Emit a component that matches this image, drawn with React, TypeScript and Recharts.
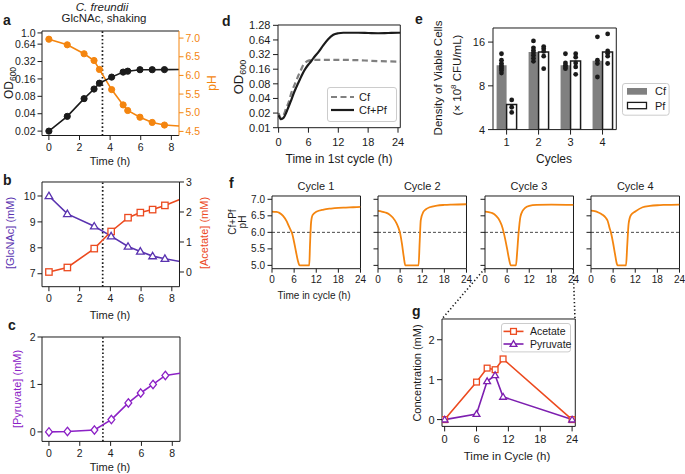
import React from "react";
import {
  LineChart,
  Line,
  XAxis,
  YAxis,
  ReferenceLine,
  ComposedChart,
  Bar,
  Scatter,
  Legend,
} from "recharts";

const FONT = '"Liberation Sans", Arial, Helvetica, sans-serif';
const INK = "#1b1b1b";
const ORANGE = "#f4850f";
const GLC = "#5a33b0";
const ACE = "#ec4a1f";
const PYR = "#8c22c6";
const PYR_G = "#7d1fb0";
const GREY = "#808080";

// ---- a: OD600 and pH, C. freundii on GlcNAc ----
const aTime = [0, 1.2, 2.3, 2.95, 3.3, 4.1, 4.85, 5.15, 5.95, 6.75, 7.55, 9];
const aOD = [0.02, 0.036, 0.073, 0.107, 0.135, 0.172, 0.21, 0.218, 0.231, 0.231, 0.232, 0.233];
const aPH = [6.97, 6.82, 6.58, 6.4, 6.16, 5.62, 5.21, 5.06, 4.88, 4.74, 4.67, 4.63];
const odTicks = [0.02, 0.04, 0.08, 0.16, 0.32, 0.64, 1];
const phTicks = [4.5, 5, 5.5, 6, 6.5, 7];
const hourTicks = [0, 2, 4, 6, 8];
const lagTime = 3.5;

// ---- b / c: GlcNAc, acetate, pyruvate ----
const bcTime = [0, 1.2, 2.95, 4.05, 5.15, 5.95, 6.75, 7.55, 9];
const bGlcNAc = [10, 9.31, 8.83, 8.45, 8.05, 7.86, 7.68, 7.58, 7.42];
const bAcetate = [0, 0.15, 0.78, 1.35, 1.81, 1.98, 2.08, 2.22, 2.52];
const cPyruvate = [0, 0.01, 0.04, 0.26, 0.61, 0.82, 1.0, 1.19, 1.26];
const glcTicks = [7, 8, 9, 10];
const aceTicks = [0, 1, 2, 3];
const pyrTicks = [0, 1, 2];

// ---- d: 1st cycle growth ----
const dTime = [0, 0.5, 1, 1.5, 2, 2.5, 3, 3.5, 4, 4.5, 5, 5.5, 6, 6.5, 7, 8, 9, 10, 11, 12, 13, 14, 16, 18, 20, 22, 24, 24.5];
const dCf = [0.02, 0.016, 0.018, 0.025, 0.033, 0.05, 0.068, 0.09, 0.12, 0.155, 0.2, 0.225, 0.24, 0.247, 0.25, 0.25, 0.25, 0.25, 0.25, 0.25, 0.249, 0.248, 0.245, 0.24, 0.235, 0.232, 0.23, 0.23];
const dCfPf = [0.018, 0.015, 0.016, 0.02, 0.027, 0.036, 0.05, 0.066, 0.085, 0.11, 0.14, 0.17, 0.2, 0.23, 0.27, 0.36, 0.5, 0.67, 0.82, 0.88, 0.9, 0.9, 0.9, 0.89, 0.88, 0.89, 0.9, 0.9];
const dOdTicks = [0.01, 0.02, 0.04, 0.08, 0.16, 0.32, 0.64, 1.28];
const dayTicks = [0, 6, 12, 18, 24];

// ---- e: viable cells per cycle ----
const cycles = [1, 2, 3, 4];
const eCf = [11.1, 13.7, 11.1, 11.9];
const ePf = [5.95, 13.7, 11.85, 13.7];
const eCfReps = [
  [13.3, 12.0, 11.4, 11.0, 10.8, 10.5, 10.2, 9.8],
  [16.3, 14.6, 14.0, 13.5, 13.0, 12.4, 11.8],
  [13.3, 11.5, 11.1, 10.8, 10.5],
  [17.4, 12.0, 11.4, 9.2],
];
const ePfReps = [
  [6.4, 5.7, 5.25],
  [14.9, 14.4, 13.8, 12.8, 10.5],
  [13.3, 12.6, 11.5, 10.8, 9.6],
  [18.2, 13.9, 13.4, 12.8, 11.4],
];
const cfuTicks = [4, 8, 16];

// ---- f: pH in each cycle ----
const cycleNames = ["Cycle 1", "Cycle 2", "Cycle 3", "Cycle 4"];
const cycle1Time = [0, 1, 2, 3, 4, 4.5, 5, 5.5, 6, 6.5, 7, 7.5, 10.1, 10.3, 10.6, 11, 12, 14, 16, 18, 20, 22, 24];
const cycle1PH = [6.63, 6.62, 6.59, 6.5, 6.33, 6.2, 6.08, 5.95, 5.7, 5.42, 5.15, 5.0, 5.0, 5.6, 6.3, 6.52, 6.62, 6.69, 6.72, 6.74, 6.75, 6.76, 6.77];
const cycle2Time = [0, 1, 2, 3, 4, 5, 5.5, 6, 6.5, 7, 7.4, 11, 11.3, 11.6, 12.3, 13, 14, 16, 18, 20, 24];
const cycle2PH = [6.65, 6.63, 6.6, 6.55, 6.45, 6.28, 6.15, 5.97, 5.65, 5.25, 5.0, 5.0, 5.7, 6.37, 6.62, 6.7, 6.76, 6.81, 6.83, 6.84, 6.85];
const cycle3Time = [0, 1, 2, 3, 4, 4.5, 5, 5.5, 6, 6.5, 7, 8.4, 8.7, 9.1, 9.6, 10.2, 10.8, 12, 14, 18, 24];
const cycle3PH = [6.63, 6.61, 6.58, 6.5, 6.35, 6.22, 6.03, 5.78, 5.5, 5.2, 5.0, 5.0, 5.37, 5.97, 6.47, 6.65, 6.73, 6.8, 6.83, 6.84, 6.83];
const cycle4Time = [0, 1, 2, 3, 4, 4.5, 5, 5.5, 6, 6.5, 7, 7.2, 9.5, 9.8, 10.2, 10.8, 12, 14, 16, 18, 20, 24];
const cycle4PH = [6.66, 6.64, 6.6, 6.54, 6.44, 6.35, 6.15, 5.95, 5.67, 5.35, 5.05, 5.0, 5.0, 5.55, 6.26, 6.52, 6.63, 6.76, 6.8, 6.82, 6.83, 6.84];
const cycleTimes = [cycle1Time, cycle2Time, cycle3Time, cycle4Time];
const cyclePHs = [cycle1PH, cycle2PH, cycle3PH, cycle4PH];
const fPhTicks = [5.0, 5.5, 6.0, 6.5, 7.0];
const phThreshold = 6.0;

// ---- g: acetate / pyruvate in cycle 3 ----
const gTime = [0, 6, 8, 9.5, 11, 24];
const gAcetate = [0, 0.94, 1.29, 1.25, 1.52, 0];
const gPyruvate = [0, 0.14, 0.96, 1.11, 0.57, 0];
const concTicks = [0, 1, 2];

// ---- layout ----
type Rect = [number, number, number, number];
const PAD_L = 50;
const PAD_R = 50;
const PAD_T = 12;
const PAD_B = 34;

const A_RECT: Rect = [42, 30.5, 179, 135];
const B_RECT: Rect = [41.5, 182.3, 179, 287];
const C_RECT: Rect = [41.5, 337.3, 179.5, 441.7];
const D_RECT: Rect = [277.7, 25, 400, 127.7];
const E_RECT: Rect = [492.7, 27.7, 616, 129.3];
const F_LEFTS = [271.7, 378, 484.7, 591];
const F_TOP = 196;
const F_BOTTOM = 268.7;
const F_W = 88.5;
const G_RECT: Rect = [441.7, 319.3, 575, 426.7];

const HOUR_DOMAIN = [-0.45, 8.5];
const A_OD_DOMAIN = [0.0168, 1.08];
const A_PH_DOMAIN = [4.39, 7.19];
const B_GLC_DOMAIN = [6.5, 10.54];
const B_ACE_DOMAIN = [-0.49, 3.0];
const C_DOMAIN = [-0.2, 2.0];
const D_X = [-0.12, 24.46];
const D_Y = [0.01, 1.3];
const E_X = [0.575, 4.43];
const E_Y = [4, 20];
const F_X = [0, 24];
const F_Y = [4.9, 7.1];
const G_X = [-0.5, 24.6];
const G_Y = [-0.17, 2.52];

function place(r: Rect, right = PAD_R) {
  const [x0, y0, x1, y1] = r;
  return {
    box: { position: "absolute" as const, left: x0 - PAD_L, top: y0 - PAD_T },
    width: x1 - x0 + PAD_L + right,
    height: y1 - y0 + PAD_T + PAD_B,
  };
}

const tickStyle = (fs: number, fill = INK) => ({ fontSize: fs, fill, fontFamily: FONT });

function frameLines(xMax: number, yMax: number, yAxisId: any = 0, withRight = true) {
  const out = [
    <ReferenceLine key="top" yAxisId={yAxisId} y={yMax} stroke={INK} strokeWidth={1} ifOverflow="visible" />,
  ];
  if (withRight) {
    out.push(
      <ReferenceLine key="right" yAxisId={yAxisId} x={xMax} stroke={INK} strokeWidth={1} ifOverflow="visible" />
    );
  }
  return out;
}

const openSquare = (color: string, s = 3.2) => (p: any) =>
  p.cx == null ? (
    <g key={p.index} />
  ) : (
    <rect key={p.index} x={p.cx - s} y={p.cy - s} width={2 * s} height={2 * s} fill="#fff" stroke={color} strokeWidth={1.3} />
  );

const openTriangle = (color: string, s = 3.8) => (p: any) =>
  p.cx == null ? (
    <g key={p.index} />
  ) : (
    <path
      key={p.index}
      d={`M${p.cx},${p.cy - s}L${p.cx + s},${p.cy + s * 0.7}L${p.cx - s},${p.cy + s * 0.7}Z`}
      fill="#fff"
      stroke={color}
      strokeWidth={1.3}
    />
  );

const openDiamond = (color: string) => (p: any) =>
  p.cx == null ? (
    <g key={p.index} />
  ) : (
    <path
      key={p.index}
      d={`M${p.cx},${p.cy - 4.2}L${p.cx + 3.4},${p.cy}L${p.cx},${p.cy + 4.2}L${p.cx - 3.4},${p.cy}Z`}
      fill="#fff"
      stroke={color}
      strokeWidth={1.3}
    />
  );

const hourAxis = (
  <XAxis
    dataKey="t"
    type="number"
    domain={HOUR_DOMAIN}
    ticks={hourTicks}
    interval={0}
    allowDataOverflow
    height={PAD_B}
    stroke={INK}
    tickSize={4.5}
    tickMargin={3.5}
    tick={tickStyle(10.5)}
  />
);

function PanelA() {
  const p = place(A_RECT);
  const data = aTime.map((t, i) => ({ t, od: aOD[i], ph: aPH[i] }));
  return (
    <div style={p.box}>
      <LineChart width={p.width} height={p.height} data={data} margin={{ top: PAD_T, right: 0, bottom: 0, left: 0 }}>
        {hourAxis}
        <YAxis
          yAxisId="od"
          type="number"
          scale="log"
          domain={A_OD_DOMAIN}
          ticks={odTicks}
          interval={0}
          allowDataOverflow
          width={PAD_L}
          stroke={INK}
          tickSize={4.5}
          tickMargin={2}
          tick={tickStyle(10.5)}
          tickFormatter={(v: number) => (Math.abs(v - 1) < 1e-6 ? "1.0" : String(v))}
        />
        <YAxis
          yAxisId="ph"
          orientation="right"
          type="number"
          domain={A_PH_DOMAIN}
          ticks={phTicks}
          interval={0}
          allowDataOverflow
          width={PAD_R}
          stroke={ORANGE}
          tickSize={4.5}
          tickMargin={2}
          tick={tickStyle(10.5, ORANGE)}
          tickFormatter={(v: number) => v.toFixed(1)}
        />
        {frameLines(HOUR_DOMAIN[1], A_OD_DOMAIN[1], "od", false)}
        <ReferenceLine yAxisId="od" x={lagTime} stroke={INK} strokeWidth={1.7} strokeDasharray="1.6 2.2" />
        <Line
          yAxisId="ph"
          dataKey="ph"
          stroke={ORANGE}
          strokeWidth={1.6}
          dot={{ r: 3.1, fill: ORANGE, stroke: ORANGE, strokeWidth: 1 }}
          isAnimationActive={false}
        />
        <Line
          yAxisId="od"
          dataKey="od"
          stroke={INK}
          strokeWidth={1.6}
          dot={{ r: 3.1, fill: INK, stroke: INK, strokeWidth: 1 }}
          isAnimationActive={false}
        />
      </LineChart>
    </div>
  );
}

function PanelB() {
  const p = place(B_RECT);
  const data = bcTime.map((t, i) => ({ t, glc: bGlcNAc[i], ace: bAcetate[i] }));
  return (
    <div style={p.box}>
      <LineChart width={p.width} height={p.height} data={data} margin={{ top: PAD_T, right: 0, bottom: 0, left: 0 }}>
        {hourAxis}
        <YAxis
          yAxisId="glc"
          type="number"
          domain={B_GLC_DOMAIN}
          ticks={glcTicks}
          interval={0}
          allowDataOverflow
          width={PAD_L}
          stroke={INK}
          tickSize={4.5}
          tickMargin={2}
          tick={tickStyle(10.5)}
        />
        <YAxis
          yAxisId="ace"
          orientation="right"
          type="number"
          domain={B_ACE_DOMAIN}
          ticks={aceTicks}
          interval={0}
          allowDataOverflow
          width={PAD_R}
          stroke={INK}
          tickSize={4.5}
          tickMargin={2}
          tick={tickStyle(10.5)}
        />
        {frameLines(HOUR_DOMAIN[1], B_GLC_DOMAIN[1], "glc", false)}
        <ReferenceLine yAxisId="glc" x={lagTime} stroke={INK} strokeWidth={1.7} strokeDasharray="1.6 2.2" />
        <Line yAxisId="ace" dataKey="ace" stroke={ACE} strokeWidth={1.6} dot={openSquare(ACE)} isAnimationActive={false} />
        <Line yAxisId="glc" dataKey="glc" stroke={GLC} strokeWidth={1.6} dot={openTriangle(GLC)} isAnimationActive={false} />
      </LineChart>
    </div>
  );
}

function PanelC() {
  const p = place(C_RECT);
  const data = bcTime.map((t, i) => ({ t, pyr: cPyruvate[i] }));
  return (
    <div style={p.box}>
      <LineChart width={p.width} height={p.height} data={data} margin={{ top: PAD_T, right: PAD_R, bottom: 0, left: 0 }}>
        {hourAxis}
        <YAxis
          type="number"
          domain={C_DOMAIN}
          ticks={pyrTicks}
          interval={0}
          allowDataOverflow
          width={PAD_L}
          stroke={INK}
          tickSize={4.5}
          tickMargin={2}
          tick={tickStyle(10.5)}
        />
        {frameLines(HOUR_DOMAIN[1], C_DOMAIN[1])}
        <ReferenceLine x={lagTime} stroke={INK} strokeWidth={1.7} strokeDasharray="1.6 2.2" />
        <Line dataKey="pyr" stroke={PYR} strokeWidth={1.6} dot={openDiamond(PYR)} isAnimationActive={false} />
      </LineChart>
    </div>
  );
}

function LegendBox({ w, h, children }: { w: number; h: number; children: React.ReactNode }) {
  return (
    <svg width={w} height={h} style={{ display: "block", fontFamily: FONT, overflow: "visible" }}>
      <rect x={0.5} y={0.5} width={w - 1} height={h - 1} rx={2.5} fill="#fff" fillOpacity={0.85} stroke="#cccccc" />
      {children}
    </svg>
  );
}

function PanelD() {
  const p = place(D_RECT);
  const data = dTime.map((t, i) => ({ t, cf: dCf[i], cfpf: dCfPf[i] }));
  const leg = { x: 326.7, y: 87.3, w: 70, h: 35 };
  return (
    <div style={p.box}>
      <LineChart width={p.width} height={p.height} data={data} margin={{ top: PAD_T, right: PAD_R, bottom: 0, left: 0 }}>
        <XAxis
          dataKey="t"
          type="number"
          domain={D_X}
          ticks={dayTicks}
          interval={0}
          allowDataOverflow
          height={PAD_B}
          stroke={INK}
          tickSize={5}
          tickMargin={6}
          tick={tickStyle(11)}
        />
        <YAxis
          type="number"
          scale="log"
          domain={D_Y}
          ticks={dOdTicks}
          interval={0}
          allowDataOverflow
          width={PAD_L}
          stroke={INK}
          tickSize={5}
          tickMargin={2.5}
          tick={tickStyle(11)}
        />
        {frameLines(D_X[1], D_Y[1])}
        <Line type="monotone" dataKey="cf" stroke={GREY} strokeWidth={2.2} strokeDasharray="6 3.5" dot={false} isAnimationActive={false} />
        <Line type="monotone" dataKey="cfpf" stroke={INK} strokeWidth={2.2} dot={false} isAnimationActive={false} />
        <Legend
          layout="vertical"
          align="center"
          verticalAlign="middle"
          wrapperStyle={{ left: leg.x - (D_RECT[0] - PAD_L), top: leg.y - (D_RECT[1] - PAD_T), width: leg.w, height: leg.h }}
          content={() => (
            <LegendBox w={leg.w} h={leg.h}>
              <line x1={4} x2={27} y1={10} y2={10} stroke={GREY} strokeWidth={2.2} strokeDasharray="6 3.5" />
              <text x={32} y={14} fontSize={11} fill={INK}>Cf</text>
              <line x1={4} x2={27} y1={23} y2={23} stroke={INK} strokeWidth={2.2} />
              <text x={32} y={27} fontSize={11} fill={INK}>Cf+Pf</text>
            </LegendBox>
          )}
        />
      </LineChart>
    </div>
  );
}

function PanelE() {
  const p = place(E_RECT, 70);
  const data = cycles.map((c, i) => ({ c, cf: eCf[i], pf: ePf[i] }));
  const cfDots = eCfReps.flatMap((reps, i) => reps.map((y) => ({ x: cycles[i] - 0.16, y })));
  const pfDots = ePfReps.flatMap((reps, i) => reps.map((y) => ({ x: cycles[i] + 0.16, y })));
  const leg = { x: 621.7, y: 83.3, w: 47.6, h: 32.7 };
  const dot = (q: any) => <circle cx={q.cx} cy={q.cy} r={2.4} fill={INK} />;
  return (
    <div style={p.box}>
      <ComposedChart
        width={p.width}
        height={p.height}
        data={data}
        barGap={0}
        margin={{ top: PAD_T, right: 70, bottom: 0, left: 0 }}
      >
        <XAxis
          dataKey="c"
          type="number"
          domain={E_X}
          ticks={cycles}
          interval={0}
          allowDataOverflow
          height={PAD_B}
          stroke={INK}
          tickSize={5}
          tickMargin={4}
          tick={tickStyle(11)}
        />
        <XAxis xAxisId="dots" dataKey="x" type="number" domain={E_X} allowDataOverflow hide />
        <YAxis
          type="number"
          scale="log"
          domain={E_Y}
          ticks={cfuTicks}
          interval={0}
          allowDataOverflow
          width={PAD_L}
          stroke={INK}
          tickSize={5}
          tickMargin={3}
          tick={tickStyle(11)}
        />
        <Bar dataKey="cf" barSize={10} fill={GREY} isAnimationActive={false} />
        <Bar dataKey="pf" barSize={10} fill="#fff" stroke={INK} strokeWidth={1.5} isAnimationActive={false} />
        <Scatter xAxisId="dots" data={cfDots} dataKey="y" shape={dot} isAnimationActive={false} />
        <Scatter xAxisId="dots" data={pfDots} dataKey="y" shape={dot} isAnimationActive={false} />
        {frameLines(E_X[1], E_Y[1])}
        <Legend
          layout="vertical"
          align="center"
          verticalAlign="middle"
          wrapperStyle={{ left: leg.x - (E_RECT[0] - PAD_L), top: leg.y - (E_RECT[1] - PAD_T), width: leg.w, height: leg.h }}
          content={() => (
            <LegendBox w={leg.w} h={leg.h}>
              <rect x={5} y={5} width={20} height={6.7} fill={GREY} />
              <text x={33} y={12.3} fontSize={11} fill={INK}>Cf</text>
              <rect x={5.5} y={19.4} width={19} height={6.3} fill="#fff" stroke={INK} strokeWidth={1.3} />
              <text x={33} y={26.5} fontSize={11} fill={INK}>Pf</text>
            </LegendBox>
          )}
        />
      </ComposedChart>
    </div>
  );
}

function PanelF() {
  return (
    <>
      {cycleNames.map((name, k) => {
        const r: Rect = [F_LEFTS[k], F_TOP, F_LEFTS[k] + F_W, F_BOTTOM];
        const p = place(r);
        const data = cycleTimes[k].map((t, i) => ({ t, ph: cyclePHs[k][i] }));
        return (
          <div key={name} style={p.box}>
            <LineChart width={p.width} height={p.height} data={data} margin={{ top: PAD_T, right: PAD_R, bottom: 0, left: 0 }}>
              <XAxis
                dataKey="t"
                type="number"
                domain={F_X}
                ticks={dayTicks}
                interval={0}
                allowDataOverflow
                height={PAD_B}
                stroke={INK}
                tickSize={4}
                tickMargin={3}
                tick={tickStyle(10)}
              />
              <YAxis
                type="number"
                domain={F_Y}
                ticks={fPhTicks}
                interval={0}
                allowDataOverflow
                width={PAD_L}
                stroke={INK}
                tickSize={4.5}
                tickMargin={2.5}
                tick={tickStyle(10)}
                tickFormatter={(v: number) => (k === 0 ? v.toFixed(1) : "")}
              />
              {frameLines(F_X[1], F_Y[1])}
              <ReferenceLine y={phThreshold} stroke={INK} strokeWidth={0.8} strokeDasharray="3 2" />
              <Line type="monotone" dataKey="ph" stroke={ORANGE} strokeWidth={1.8} dot={false} isAnimationActive={false} />
            </LineChart>
          </div>
        );
      })}
    </>
  );
}

function PanelG() {
  const p = place(G_RECT);
  const data = gTime.map((t, i) => ({ t, ace: gAcetate[i], pyr: gPyruvate[i] }));
  const leg = { x: 500.7, y: 323.3, w: 70, h: 29.4 };
  return (
    <div style={p.box}>
      <LineChart width={p.width} height={p.height} data={data} margin={{ top: PAD_T, right: PAD_R, bottom: 0, left: 0 }}>
        <XAxis
          dataKey="t"
          type="number"
          domain={G_X}
          ticks={dayTicks}
          interval={0}
          allowDataOverflow
          height={PAD_B}
          stroke={INK}
          tickSize={5}
          tickMargin={4}
          tick={tickStyle(11)}
        />
        <YAxis
          type="number"
          domain={G_Y}
          ticks={concTicks}
          interval={0}
          allowDataOverflow
          width={PAD_L}
          stroke={INK}
          tickSize={5}
          tickMargin={2.5}
          tick={tickStyle(11)}
        />
        {frameLines(G_X[1], G_Y[1])}
        <Line dataKey="ace" stroke={ACE} strokeWidth={1.6} dot={openSquare(ACE, 2.9)} isAnimationActive={false} />
        <Line dataKey="pyr" stroke={PYR_G} strokeWidth={1.6} dot={openTriangle(PYR_G, 3.4)} isAnimationActive={false} />
        <Legend
          layout="vertical"
          align="center"
          verticalAlign="middle"
          wrapperStyle={{ left: leg.x - (G_RECT[0] - PAD_L), top: leg.y - (G_RECT[1] - PAD_T), width: leg.w, height: leg.h }}
          content={() => (
            <LegendBox w={leg.w} h={leg.h}>
              <line x1={2.5} x2={22.5} y1={8.4} y2={8.4} stroke={ACE} strokeWidth={1.6} />
              {openSquare(ACE, 2.9)({ cx: 12.5, cy: 8.4, index: 0 })}
              <text x={29} y={12.2} fontSize={10.5} fill={INK}>Acetate</text>
              <line x1={2.5} x2={22.5} y1={21} y2={21} stroke={PYR_G} strokeWidth={1.6} />
              {openTriangle(PYR_G, 3.4)({ cx: 12.5, cy: 21, index: 1 })}
              <text x={29} y={24.8} fontSize={10.5} fill={INK}>Pyruvate</text>
            </LegendBox>
          )}
        />
      </LineChart>
    </div>
  );
}

function VLabel({ x, y, fs, color = INK, children }: any) {
  return (
    <text transform={`translate(${x},${y}) rotate(-90)`} textAnchor="middle" fontSize={fs} fill={color}>
      {children}
    </text>
  );
}

function Labels() {
  const letters: [string, number, number][] = [
    ["a", 3, 25],
    ["b", 3, 185],
    ["c", 8, 330],
    ["d", 222, 26],
    ["e", 415, 24],
    ["f", 229, 188],
    ["g", 412, 316],
  ];
  const fMid = F_LEFTS.map((l) => l + F_W / 2);
  return (
    <svg
      width={685}
      height={474}
      style={{ position: "absolute", left: 0, top: 0, pointerEvents: "none" }}
      fontFamily={FONT}
    >
      {letters.map(([s, x, y]) => (
        <text key={s} x={x} y={y} fontSize={14} fontWeight="bold" fill={INK}>
          {s}
        </text>
      ))}
      <text x={102} y={10.5} fontSize={11.5} fontStyle="italic" textAnchor="middle" fill={INK}>
        C. freundii
      </text>
      <text x={104} y={22} fontSize={11.5} textAnchor="middle" fill={INK}>
        GlcNAc, shaking
      </text>
      <VLabel x={13} y={83} fs={12}>
        OD<tspan fontSize={8.5} dy={2.5}>600</tspan>
      </VLabel>
      <VLabel x={216} y={83} fs={12} color={ORANGE}>pH</VLabel>
      <text x={110} y={165} fontSize={11} textAnchor="middle" fill={INK}>Time (h)</text>

      <VLabel x={14} y={233} fs={11} color={GLC}>[GlcNAc] (mM)</VLabel>
      <VLabel x={208} y={233} fs={11} color={ACE}>[Acetate] (mM)</VLabel>
      <text x={110} y={319} fontSize={11} textAnchor="middle" fill={INK}>Time (h)</text>

      <VLabel x={21} y={389} fs={11} color={PYR}>[Pyruvate] (mM)</VLabel>
      <text x={110} y={471} fontSize={11} textAnchor="middle" fill={INK}>Time (h)</text>

      <VLabel x={243} y={77} fs={13}>
        OD<tspan fontSize={9} dy={2.5}>600</tspan>
      </VLabel>
      <text x={339} y={163} fontSize={12} textAnchor="middle" fill={INK}>Time in 1st cycle (h)</text>

      <VLabel x={442} y={78} fs={11.5}>Density of Viable Cells</VLabel>
      <VLabel x={461} y={75} fs={11.5}>
        (× 10<tspan fontSize={8} dy={-5}>8</tspan>
        <tspan dy={5}> CFU/mL)</tspan>
      </VLabel>
      <text x={554} y={163} fontSize={12} textAnchor="middle" fill={INK}>Cycles</text>

      <VLabel x={236} y={222} fs={10}>Cf+Pf</VLabel>
      <VLabel x={246} y={222} fs={10}>pH</VLabel>
      {cycleNames.map((n, k) => (
        <text key={n} x={fMid[k]} y={189.5} fontSize={11} textAnchor="middle" fill={INK}>
          {n}
        </text>
      ))}
      <text x={314} y={299} fontSize={10} textAnchor="middle" fill={INK}>Time in cycle (h)</text>

      <VLabel x={421} y={373} fs={11}>Concentration (mM)</VLabel>
      <text x={507} y={460} fontSize={11.5} textAnchor="middle" fill={INK}>Time in Cycle (h)</text>

      <line x1={F_LEFTS[2]} y1={F_BOTTOM} x2={G_RECT[0]} y2={G_RECT[1]} stroke={INK} strokeWidth={1.6} strokeDasharray="1.3 2.4" />
      <line x1={F_LEFTS[2] + F_W} y1={F_BOTTOM} x2={G_RECT[2]} y2={G_RECT[1]} stroke={INK} strokeWidth={1.6} strokeDasharray="1.3 2.4" />
    </svg>
  );
}

export default function App() {
  return (
    <div
      style={{
        position: "absolute",
        left: 0,
        top: 0,
        width: 685,
        height: 474,
        background: "#fff",
        fontFamily: FONT,
        overflow: "hidden",
      }}
    >
      <PanelA />
      <PanelB />
      <PanelC />
      <PanelD />
      <PanelE />
      <PanelF />
      <PanelG />
      <Labels />
    </div>
  );
}
